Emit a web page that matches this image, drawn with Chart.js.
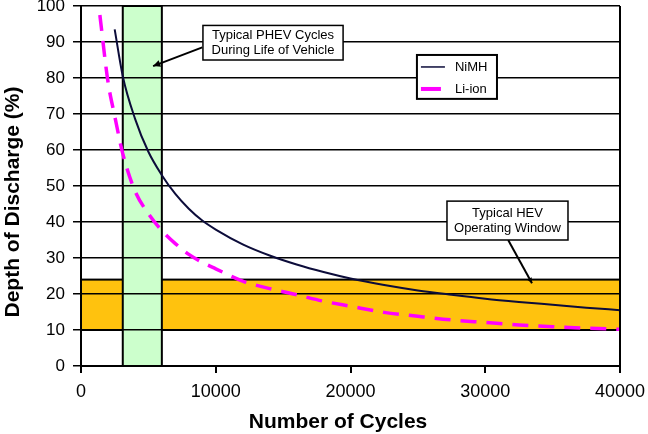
<!DOCTYPE html>
<html>
<head>
<meta charset="utf-8">
<script src="https://cdn.jsdelivr.net/npm/chart.js@4.4.0/dist/chart.umd.min.js"></script>
<style>
html, body { margin: 0; padding: 0; background: #fff; }
</style>
</head>
<body>
<canvas id="mycan1" width="648" height="434"></canvas>
<script>
// cycle life vs depth of discharge
var nimhCycles = [2500, 3100, 4000, 5000, 6000, 7000, 8000, 9000, 10000, 12000, 14000, 16000, 18000, 20000, 22500, 25000, 27500, 30000, 32500, 35000, 37500, 40000];
var nimhDoD    = [93.5, 80.5, 68.8, 59.5, 53, 47.8, 43.7, 40.4, 37.9, 33.8, 30.7, 28.2, 26.1, 24.3, 22.5, 21, 19.8, 18.7, 17.8, 17, 16.2, 15.5];
var lionCycles = [1400, 2000, 2500, 3100, 4000, 5000, 6000, 7000, 8000, 9000, 10000, 12000, 14000, 16000, 18000, 20000, 22500, 25000, 27500, 30000, 32500, 35000, 37500, 40000];
var lionDoD    = [97.5, 79, 69.5, 59, 48.7, 42.3, 37.6, 34, 31, 28.8, 27, 23.6, 21.5, 19.8, 18, 16.6, 14.9, 13.8, 12.8, 12.1, 11.4, 10.9, 10.5, 10.2];
var seriesNames = ['NiMH', 'Li-ion'];
var xTicks = [0, 10000, 20000, 30000, 40000];
var yTicks = [0, 10, 20, 30, 40, 50, 60, 70, 80, 90, 100];
var phevCycles = [3100, 6000];   // green band
var hevDoD = [10, 24];           // orange band
var xTitle = 'Number of Cycles';
var yTitle = 'Depth of Discharge (%)';
var phevText = ['Typical PHEV Cycles', 'During Life of Vehicle'];
var hevText = ['Typical HEV', 'Operating Window'];

var FONT = 'Arial, "Liberation Sans", sans-serif';
Chart.defaults.font.family = FONT;
Chart.defaults.color = '#000';

function pts(xs, ys) {
	var out = [];
	for (var i = 0; i < xs.length; i++) out.push({x: xs[i], y: ys[i]});
	return out;
}

function box(ctx, l, t, r, b, lines, lw) {
	ctx.fillStyle = '#fff';
	ctx.fillRect(l, t, r - l, b - t);
	ctx.strokeStyle = '#000';
	ctx.lineWidth = lw;
	ctx.strokeRect(l, t, r - l, b - t);
	if (!lines) return;
	ctx.fillStyle = '#000';
	ctx.font = '13px ' + FONT;
	ctx.textAlign = 'center';
	ctx.textBaseline = 'middle';
	var cx = (l + r) / 2, cy = (t + b) / 2;
	ctx.fillText(lines[0], cx, cy - 7.5);
	ctx.fillText(lines[1], cx, cy + 7.5);
}

function arrow(ctx, x1, y1, x2, y2, h) {
	ctx.strokeStyle = '#000';
	ctx.fillStyle = '#000';
	ctx.lineWidth = 2;
	ctx.beginPath();
	ctx.moveTo(x1, y1);
	ctx.lineTo(x2, y2);
	ctx.stroke();
	var a = Math.atan2(y2 - y1, x2 - x1);
	ctx.beginPath();
	ctx.moveTo(x2, y2);
	ctx.lineTo(x2 - h * Math.cos(a - 0.45), y2 - h * Math.sin(a - 0.45));
	ctx.lineTo(x2 - h * Math.cos(a + 0.45), y2 - h * Math.sin(a + 0.45));
	ctx.closePath();
	ctx.fill();
}

var bands = {
	id: 'bands',
	beforeDraw: function(chart) {
		var ctx = chart.ctx, x = chart.scales.x, y = chart.scales.y;
		ctx.save();
		// HEV window
		var l = x.getPixelForValue(x.min), r = x.getPixelForValue(x.max);
		var t = y.getPixelForValue(hevDoD[1]), b = y.getPixelForValue(hevDoD[0]);
		ctx.fillStyle = '#ffc20e';
		ctx.fillRect(l, t, r - l, b - t);
		ctx.strokeStyle = '#000';
		ctx.lineWidth = 2;
		ctx.strokeRect(l, t, r - l, b - t);
		// PHEV band
		l = x.getPixelForValue(phevCycles[0]); r = x.getPixelForValue(phevCycles[1]);
		t = y.getPixelForValue(y.max); b = y.getPixelForValue(y.min);
		ctx.fillStyle = '#ccffcc';
		ctx.fillRect(l, t, r - l, b - t);
		ctx.strokeRect(l, t, r - l, b - t);
		ctx.restore();
	},
	afterDraw: function(chart) {
		var ctx = chart.ctx, x = chart.scales.x, y = chart.scales.y, a = chart.chartArea;
		ctx.save();
		// right frame
		ctx.strokeStyle = '#000';
		ctx.lineWidth = 2;
		ctx.beginPath();
		ctx.moveTo(a.right, a.top);
		ctx.lineTo(a.right, a.bottom);
		ctx.stroke();

		// PHEV note
		arrow(ctx, x.getPixelForValue(9000), y.getPixelForValue(88.5), x.getPixelForValue(5350), y.getPixelForValue(83.3), 8);
		box(ctx, x.getPixelForValue(9050), y.getPixelForValue(94.6), x.getPixelForValue(19450), y.getPixelForValue(85), phevText, 1.5);

		// HEV note
		arrow(ctx, x.getPixelForValue(31700), y.getPixelForValue(35), x.getPixelForValue(33470), y.getPixelForValue(23), 6);
		box(ctx, x.getPixelForValue(27160), y.getPixelForValue(45.8), x.getPixelForValue(36140), y.getPixelForValue(35), hevText, 1.5);

		// legend
		var ll = x.getPixelForValue(24930), lr = x.getPixelForValue(30870);
		var lt = y.getPixelForValue(86.4), lb = y.getPixelForValue(74.2);
		box(ctx, ll, lt, lr, lb, null, 2);
		var ds = chart.data.datasets;
		ctx.font = '13px ' + FONT;
		ctx.textAlign = 'left';
		ctx.textBaseline = 'middle';
		var rows = [lt + 12, lt + 34];
		for (var i = 0; i < ds.length; i++) {
			ctx.strokeStyle = ds[i].borderColor;
			ctx.lineWidth = i === 0 ? 1.5 : 4;
			ctx.beginPath();
			ctx.moveTo(ll + 4, rows[i]);
			ctx.lineTo(ll + (i === 0 ? 28 : 24), rows[i]);
			ctx.stroke();
			ctx.fillStyle = '#000';
			ctx.fillText(ds[i].label, ll + 38, rows[i]);
		}

		// axis titles
		ctx.font = 'bold 21px ' + FONT;
		ctx.textAlign = 'center';
		ctx.textBaseline = 'middle';
		ctx.fillText(xTitle, 338, 422);
		ctx.translate(13, 202);
		ctx.rotate(-Math.PI / 2);
		ctx.fillText(yTitle, 0, 0);
		ctx.restore();
	}
};

var chartdata = {
	datasets: [
		{
			label: seriesNames[0],
			data: pts(nimhCycles, nimhDoD),
			borderColor: '#0c0c3a',
			borderWidth: 2,
			pointRadius: 0,
			cubicInterpolationMode: 'monotone'
		},
		{
			label: seriesNames[1],
			data: pts(lionCycles, lionDoD),
			borderColor: '#ff00ff',
			borderWidth: 3.5,
			borderDash: [16, 10],
			pointRadius: 0,
			cubicInterpolationMode: 'monotone'
		}
	]
};

var ctx = document.getElementById('mycan1');
var chart = new Chart(ctx, {
	type: 'line',
	data: chartdata,
	plugins: [bands],
	options: {
		responsive: false,
		animation: false,
		devicePixelRatio: 1,
		layout: { padding: { left: 0, right: 28, top: 6, bottom: 0 } },
		plugins: { legend: { display: false }, tooltip: { enabled: false } },
		scales: {
			x: {
				type: 'linear',
				min: 0,
				max: 40000,
				afterBuildTicks: function(s) { s.ticks = xTicks.map(function(v) { return {value: v}; }); },
				afterFit: function(s) { s.height = 68; s.paddingLeft = 0; s.paddingRight = 0; },
				ticks: { font: { size: 18 }, color: '#000', padding: 8, maxRotation: 0,
					callback: function(v) { return String(v); } },
				grid: { drawOnChartArea: false, drawTicks: true, tickLength: 7, color: '#000', lineWidth: 2 },
				border: { color: '#000', width: 2 }
			},
			y: {
				min: 0,
				max: 100,
				afterBuildTicks: function(s) { s.ticks = yTicks.map(function(v) { return {value: v}; }); },
				afterFit: function(s) { s.width = 81; s.paddingTop = 0; s.paddingBottom = 0; },
				ticks: { font: { size: 17 }, color: '#000', padding: 8 },
				grid: { color: '#000', lineWidth: 1.5, tickLength: 8 },
				border: { color: '#000', width: 2 }
			}
		}
	}
});
</script>
</body>
</html>
